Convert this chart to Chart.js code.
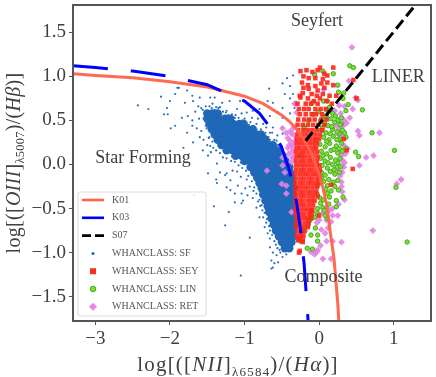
<!DOCTYPE html>
<html lang="en">
<head>
    <meta charset="UTF-8">
    <title>BPT diagram</title>
    <script src="https://cdnjs.cloudflare.com/ajax/libs/Chart.js/4.4.1/chart.umd.min.js"></script>
    <style>
        body { margin: 0; background: #fff; }
        canvas { display: block; }
    </style>
</head>
<body>
    <canvas id="bpt" width="436" height="377"></canvas>

    <script>
        const xTicks = [-3, -2, -1, 0, 1];
        const xTickLabels = ['−3', '−2', '−1', '0', '1'];
        const yTicks = [-1.5, -1, -0.5, 0, 0.5, 1, 1.5];
        const yTickLabels = ['−1.5', '−1.0', '−0.5', '0.0', '0.5', '1.0', '1.5'];

        // demarcation lines
        const k01 = [[-3.3, 1.03], [-3, 1.01], [-2.5, 0.985], [-2, 0.94], [-1.5, 0.88], [-1, 0.775], [-0.75, 0.69], [-0.5, 0.56], [-0.4, 0.49], [-0.3, 0.4], [-0.2, 0.28], [-0.1, 0.12], [0, -0.11], [0.05, -0.26], [0.1, -0.45], [0.15, -0.77], [0.2, -1.07], [0.25, -1.58], [0.27, -1.86]];
        const k03 = [[-3.3, 1.12], [-3, 1.1], [-2.5, 1.06], [-2, 1], [-1.5, 0.905], [-1, 0.72], [-0.8, 0.58], [-0.6, 0.36], [-0.5, 0.19], [-0.4, -0.06], [-0.3, -0.44], [-0.25, -0.74], [-0.2, -1.14], [-0.15, -1.75], [-0.14, -1.9]];
        const s07 = [[-0.18, 0.27], [1.29, 1.81]];

        // dense part of the star forming cloud, [y, [x...]]
        const sfCoreRows = [
            [0.58, [-1.50, -1.43, -1.36]],
            [0.52, [-1.50, -1.42, -1.34, -1.26, -1.19]],
            [0.46, [-1.47, -1.39, -1.31, -1.23, -1.15, -1.07, -1.01]],
            [0.40, [-1.44, -1.36, -1.28, -1.20, -1.12, -1.04, -0.96, -0.89]],
            [0.34, [-1.40, -1.32, -1.24, -1.16, -1.08, -1.00, -0.92, -0.84, -0.78]],
            [0.28, [-1.36, -1.28, -1.20, -1.12, -1.04, -0.96, -0.88, -0.80, -0.72]],
            [0.22, [-1.31, -1.23, -1.15, -1.07, -0.99, -0.91, -0.83, -0.75, -0.67, -0.62]],
            [0.16, [-1.24, -1.16, -1.08, -1.00, -0.92, -0.84, -0.76, -0.68, -0.60, -0.55]],
            [0.10, [-1.12, -1.04, -0.96, -0.88, -0.80, -0.72, -0.64, -0.56, -0.49]],
            [0.04, [-1.00, -0.92, -0.84, -0.76, -0.68, -0.60, -0.52, -0.45]],
            [-0.03, [-0.92, -0.84, -0.76, -0.68, -0.60, -0.52, -0.44, -0.40]],
            [-0.09, [-0.87, -0.79, -0.71, -0.63, -0.55, -0.47, -0.39]],
            [-0.15, [-0.83, -0.75, -0.67, -0.59, -0.51, -0.43, -0.37]],
            [-0.21, [-0.80, -0.72, -0.64, -0.56, -0.48, -0.40, -0.36]],
            [-0.27, [-0.77, -0.69, -0.61, -0.53, -0.45, -0.37, -0.34]],
            [-0.34, [-0.75, -0.67, -0.59, -0.51, -0.43, -0.35]],
            [-0.41, [-0.72, -0.64, -0.56, -0.48, -0.40, -0.34]],
            [-0.475, [-0.69, -0.61, -0.53, -0.45, -0.37, -0.33]],
            [-0.54, [-0.67, -0.59, -0.51, -0.43, -0.35]],
            [-0.61, [-0.64, -0.56, -0.48, -0.40, -0.34]],
            [-0.68, [-0.61, -0.53, -0.45, -0.37, -0.33]],
            [-0.75, [-0.58, -0.50, -0.42, -0.35]],
            [-0.815, [-0.54, -0.47, -0.39, -0.35]],
            [-0.88, [-0.50, -0.43, -0.37]],
            [-0.95, [-0.46, -0.40]]
        ];

        const sfStray = [
            [-2.43, 0.67], [-2.29, 0.63], [-2.12, 0.77], [-1.90, 0.87], [-1.88, 0.87], [-1.93, 0.80], [-1.77, 0.84], [-2.0, 0.72], [-2.04, 0.64], [-2.08, 0.57],
            [-2.03, 0.57], [-1.84, 0.53], [-1.93, 0.44], [-1.99, 0.41], [-1.77, 0.36], [-1.82, 0.19], [-1.69, 0.72], [-1.80, 0.70], [-1.70, 0.78], [-1.60, 0.76],
            [-1.46, 0.76], [-1.40, 0.76], [-1.20, 0.72], [-1.76, 0.55], [-1.70, 0.50], [-1.70, 0.44], [-1.64, 0.41], [-1.60, 0.31], [-1.69, 0.25], [-1.56, 0.16],
            [-1.49, 0.10], [-1.37, 0.01], [-1.33, -0.09], [-1.24, -0.10], [-1.49, -0.10], [-1.16, -0.07], [-1.10, 0.63], [-0.97, 0.59], [-1.24, 0.61], [-1.35, 0.64],
            [-1.06, 0.72], [-1.62, 0.66], [-1.66, 0.60], [-1.58, 0.64], [-1.61, 0.52], [-1.58, 0.38], [-1.55, 0.28], [-1.50, 0.22], [-1.45, 0.14], [-1.30, 0.70],
            [-0.43, 0.98], [-0.35, 1.01], [-0.67, 0.86], [-0.49, 0.92], [-0.39, 0.89], [-0.46, 0.80], [-0.35, 0.80], [-0.69, 0.72], [-0.62, 0.70], [-0.39, 0.75],
            [-0.49, 0.64], [-0.33, 0.64], [-0.80, 0.63], [-0.89, 0.61], [-0.55, 0.59], [-0.39, 0.58], [-0.66, 0.55], [-0.49, 0.53], [-0.75, 0.46], [-0.62, 0.42],
            [-0.50, 0.42], [-0.63, 0.36], [-0.49, 0.35], [-0.57, 0.27], [-0.50, 0.21], [-1.0, 0.52], [-0.92, 0.48], [-0.84, 0.46], [-0.78, 0.40], [-0.72, 0.36],
            [-0.90, 0.53], [-0.68, 0.31], [-0.60, 0.28], [-0.55, 0.22], [-1.12, 0.56], [-1.04, 0.58], [-0.82, 0.52], [-0.71, 0.42], [-0.66, 0.36], [-0.56, 0.33],
            [-1.68, -0.35], [-1.41, -0.475], [-1.21, -0.54], [-1.26, -0.69], [-1.05, -1.26], [-1.13, -0.43], [-1.37, -0.21], [-1.38, -0.17], [-1.24, -0.26], [-1.19, -0.29],
            [-1.13, -0.33], [-1.04, -0.33], [-1.02, -0.41], [-0.99, -0.27], [-1.09, -0.24], [-1.19, -0.18], [-1.26, -0.12], [-0.93, -0.83], [-0.66, -0.94], [-0.64, -1.09],
            [-0.60, -1.12], [-0.62, -1.17], [-0.64, -1.18], [-0.55, -1.11], [-0.49, -1.05], [-0.66, -0.84], [-0.73, -0.71], [-0.80, -0.60], [-0.84, -0.49], [-0.89, -0.38],
            [-1.04, -0.44], [-0.96, -0.35], [-0.76, -0.52], [-0.69, -0.78], [-0.62, -1.0], [-0.57, -1.03], [-1.05, -0.14], [-1.10, -0.08], [-0.97, -0.17], [-0.93, -0.25],
            [-0.88, -0.30], [-0.82, -0.42], [-0.79, -0.47], [-0.75, -0.60], [-0.71, -0.66], [-0.66, -0.75], [-0.60, -0.87], [-0.56, -0.95], [-0.52, -1.0], [-0.44, -1.02],
            // fringe of the top left tip
            [-1.56, 0.62], [-1.52, 0.66], [-1.47, 0.66], [-1.43, 0.69], [-1.38, 0.65], [-1.33, 0.65], [-1.29, 0.60], [-1.25, 0.59], [-1.54, 0.57], [-1.55, 0.52],
            [-1.44, 0.64], [-1.40, 0.62], [-1.35, 0.61], [-1.31, 0.57], [-1.22, 0.56], [-1.17, 0.57], [-1.13, 0.53], [-1.08, 0.53], [-1.03, 0.50], [-0.98, 0.47],
            [-0.94, 0.45], [-0.88, 0.44], [-0.84, 0.40], [-0.78, 0.36], [-0.72, 0.33], [-0.66, 0.28], [-0.62, 0.26], [-0.58, 0.21], [-1.52, 0.49], [-1.52, 0.44],
            [-1.51, 0.41], [-1.46, 0.37], [-1.47, 0.31], [-1.43, 0.26], [-1.42, 0.19], [-1.38, 0.16], [-1.33, 0.13], [-1.29, 0.08], [-1.24, 0.07], [-1.18, 0.04],
            [-1.13, 0.03], [-1.08, -0.01], [-1.03, -0.04], [-0.98, -0.07], [-0.95, -0.13], [-0.90, -0.19], [-0.87, -0.26], [-0.84, -0.33], [-0.80, -0.40], [-0.77, -0.46],
            [-0.73, -0.55], [-0.70, -0.62], [-0.67, -0.70], [-0.63, -0.80], [-0.58, -0.91], [-0.53, -0.97], [-1.48, 0.30], [-1.46, 0.21], [-1.05, 0.02], [-1.17, 0.09]
        ];

        // seyfert, solid block as [y, [x...]] and the sparse top and outliers as points
        const seyRows = [
            [0.63, [-0.27, -0.20, -0.14, -0.05, 0.02, 0.09]],
            [0.57, [-0.26, -0.18, -0.10, -0.04, 0.04]],
            [0.51, [-0.28, -0.20, -0.13, -0.06, 0.03, 0.10]],
            [0.45, [-0.29, -0.22, -0.15, -0.08, -0.01, 0.07]],
            [0.39, [-0.28, -0.21, -0.15, -0.09, -0.03, 0.04]],
            [0.34, [-0.29, -0.23, -0.17, -0.11, -0.05, 0.01]],
            [0.29, [-0.30, -0.24, -0.18, -0.12, -0.06, 0]],
            [0.24, [-0.30, -0.245, -0.19, -0.135, -0.08, -0.03]],
            [0.19, [-0.30, -0.25, -0.19, -0.14, -0.08, -0.04]],
            [0.14, [-0.31, -0.25, -0.20, -0.14, -0.09, -0.03]],
            [0.09, [-0.30, -0.24, -0.19, -0.13, -0.08, -0.02]],
            [0.04, [-0.31, -0.25, -0.20, -0.14, -0.09, -0.03]],
            [-0.01, [-0.31, -0.255, -0.20, -0.145, -0.09, -0.035, 0]],
            [-0.06, [-0.31, -0.25, -0.20, -0.14, -0.09, -0.03, 0.01]],
            [-0.11, [-0.32, -0.26, -0.20, -0.15, -0.09, -0.04, 0]],
            [-0.16, [-0.31, -0.25, -0.20, -0.14, -0.09, -0.03, 0.01]],
            [-0.21, [-0.32, -0.26, -0.21, -0.15, -0.10, -0.04, 0]],
            [-0.26, [-0.31, -0.26, -0.20, -0.15, -0.09, -0.03]],
            [-0.31, [-0.32, -0.26, -0.21, -0.15, -0.10, -0.04]],
            [-0.36, [-0.31, -0.25, -0.20, -0.14, -0.08, -0.02]],
            [-0.41, [-0.32, -0.26, -0.21, -0.15, -0.10, -0.06]],
            [-0.46, [-0.31, -0.25, -0.20, -0.14, -0.08]],
            [-0.51, [-0.32, -0.26, -0.20, -0.15, -0.09]],
            [-0.56, [-0.31, -0.25, -0.20, -0.14, -0.10]],
            [-0.61, [-0.31, -0.26, -0.20, -0.15, -0.11]],
            [-0.66, [-0.30, -0.25, -0.19, -0.14]],
            [-0.71, [-0.31, -0.25, -0.20, -0.15]],
            [-0.76, [-0.29, -0.24, -0.20]],
            [-0.81, [-0.30, -0.25, -0.21]],
            [-0.86, [-0.28, -0.22]]
        ];
        const seyPoints = [
            [-0.25, 1.06], [-0.17, 1.07], [-0.09, 1.05], [-0.02, 1.07], [0.01, 1.10], [0.07, 1.03], [0.19, 1.10], [-0.21, 1.0], [-0.14, 0.98], [-0.05, 0.98],
            [0.05, 0.97], [0.11, 1.01], [-0.23, 0.93], [-0.15, 0.90], [-0.05, 0.89], [0.03, 0.92], [0.11, 0.93], [0.19, 0.90], [-0.21, 0.87], [-0.14, 0.86],
            [-0.02, 0.84], [0.07, 0.87], [-0.26, 0.78], [-0.22, 0.81], [-0.10, 0.80], [-0.03, 0.78], [0.05, 0.80], [0.14, 0.78], [0.23, 0.78], [-0.25, 0.76],
            [-0.15, 0.75], [-0.07, 0.72], [0.01, 0.75], [0.10, 0.72], [-0.18, 0.69], [-0.11, 0.69], [-0.02, 0.69], [0.17, 0.69], [-0.29, 0.69], [0.50, 0.75],
            [0.46, 0.96], [0.37, 0.16], [0.33, 0.29], [0.45, -0.05], [0.16, -0.23], [0, -0.58], [-0.10, -0.52], [-0.22, -0.88], [-0.27, -0.85], [-0.27, -1.0], [-0.26, -0.98]
        ];

        const linPoints = [
            [0.41, 1.12], [0.46, 1.10], [0.19, 1.03], [0.05, 1.06], [-0.06, 1.02], [0.25, 0.90], [0.26, 0.82], [0.33, 0.81], [0.39, 0.68], [0.32, 0.75],
            [0.58, 0.62], [0.11, 0.72], [0.06, 0.72], [-0.09, 0.70], [0.14, 0.65], [0.36, 0.61], [0.30, 0.53], [0.25, 0.50], [0.30, 0.46], [0.71, 0.36],
            [0.34, 0.36], [0.36, 0.31], [0.27, 0.35], [0.49, 0.14], [0.36, 0.18], [0.25, 0.02], [0.53, 0.09], [1.01, 0.16], [1.03, -0.26], [1.18, -0.88],
            [0.07, 0.47], [0.12, 0.44], [0.21, 0.48], [0.28, 0.45], [0.03, 0.39], [0.09, 0.36], [0.18, 0.40], [0.24, 0.37], [0.31, 0.39], [0.06, 0.31],
            [0.13, 0.28], [0.19, 0.32], [0.27, 0.29], [0.01, 0.23], [0.08, 0.20], [0.14, 0.24], [0.23, 0.21], [0.30, 0.24], [0.03, 0.15], [0.10, 0.12],
            [0.16, 0.16], [0.25, 0.13], [0.31, 0.15], [0.02, 0.07], [0.08, 0.04], [0.15, 0.08], [0.22, 0.05], [0.28, 0.07], [0.04, -0.01], [0.11, -0.04],
            [0.18, 0], [0.24, -0.03], [0.03, -0.09], [0.08, -0.12], [0.15, -0.08], [0.21, -0.11], [0.27, -0.09], [0.06, -0.19], [0.13, -0.17], [0.19, -0.20],
            [0.25, -0.18], [0.11, -0.24], [0.21, -0.25], [0.16, -0.30], [0.26, -0.29], [0.32, -0.37], [0.23, -0.41], [0.23, -0.48], [0.11, -0.33], [0.14, -0.37],
            [-0.02, -0.24], [-0.03, -0.33], [0.01, -0.38], [-0.02, -0.50], [0.05, -0.49], [0.11, -0.61], [-0.06, -0.60], [-0.10, -0.61], [-0.15, -0.69], [-0.05, -0.72],
            [-0.19, -0.75], [-0.02, -0.80], [-0.11, -0.80], [-0.25, -0.87], [-0.02, -0.87], [-0.16, -0.95], [-0.09, -0.96], [0.08, -0.58], [0.07, -0.52], [-0.03, -0.55],
            [-0.13, -0.64], [-0.14, 0.50], [-0.08, 0.57], [-0.01, 0.60], [-0.20, 0.42], [0.10, 0.62], [0.18, 0.58], [-0.26, 0.10], [-0.05, 0.28], [0.06, 0.54],
            [0.05, 0.42], [0.15, 0.35], [0.10, 0.26], [0.20, 0.17], [0.05, 0.10], [0.12, 0.02], [0.20, -0.06], [0.03, -0.15], [0.09, -0.28], [0.06, -0.40],
            [0.10, 0.55], [0.16, 0.52], [0.22, 0.55], [0.02, 0.50], [0.27, 0.18], [0.29, -0.02], [0.13, -0.45], [0.02, -0.44], [0.17, 0.43], [0.24, 0.28]
        ];

        const retPoints = [
            [0.44, 1.33], [0.40, 0.95], [0.49, 0.76], [0.52, 0.73], [0.45, 0.63], [0.41, 0.53], [0.37, 0.47], [0.52, 0.38], [0.54, 0.33], [0.81, 0.36],
            [0.63, 0.08], [0.73, 0.10], [0.54, -0.01], [0.31, -0.09], [1.10, -0.17], [0.34, 0.02], [-0.70, -0.07], [-0.49, -0.01], [-0.46, -0.09], [-0.49, 0.08],
            [-0.49, 0.41], [-0.37, 0.35], [-0.39, 0.27], [-0.42, 0.19], [-0.33, 0.33], [-0.33, 0.69], [-0.30, 0.59], [-0.37, 0.14], [0.38, 0.18], [0.31, 0.16],
            [1.04, -0.22], [0.72, -0.75], [0.30, -0.88], [0.10, -0.87], [0.18, -0.87], [0.05, -1.07], [0.16, -1.07], [-0.02, -0.97], [-0.06, -1.02], [-0.11, -0.99],
            [-0.03, -0.99], [-0.50, -0.22], [-0.44, -0.24], [-0.44, -0.33], [-0.37, -0.54], [0.31, -0.31], [0.34, -0.40], [0.18, -0.58], [0.10, -0.63], [0, -0.63],
            [-0.03, -0.66], [0.18, -0.50], [0.05, -0.55], [0.10, -0.49], [0.14, -0.52], [-0.02, -0.55], [0.28, 0.27], [0.32, 0.38], [0.34, 0.50], [0.30, 0.10],
            [0.27, -0.07], [0.23, 0.44], [0.21, 0.61], [0.27, 0.67], [0.34, 0.66], [0.06, 0.85], [-0.31, 0.69], [-0.40, 0.22], [-0.36, 0.08], [-0.34, 0.42],
            [-0.44, 0.36], [0.12, -0.72], [0.03, -0.74], [0.16, -0.65], [0.26, -0.45], [0.30, -0.20], [0.25, -0.58], [0.02, -0.92], [0.08, -0.78],
            [-0.42, 0.30], [-0.38, 0.38], [-0.36, 0.22], [-0.33, 0.26], [-0.41, 0.12], [-0.35, 0.18], [-0.34, 0.08], [-0.37, 0.03], [0.26, 0.50], [0.32, 0.44],
            [0.30, 0.32], [0.33, 0.22], [0.35, 0.12], [0.31, 0.05], [0.33, -0.03], [0.28, -0.13], [0.30, -0.25], [0.25, 0.35], [0.27, 0.40], [0.29, 0.58]
        ];

        const pairsFromRows = rows => rows.flatMap(([y, xs]) => xs.map(x => [x, y]));

        function scatterSet(label, points, style) {
            return Object.assign({
                label: label,
                data: points.map(p => ({ x: p[0], y: p[1] })),
                showLine: false
            }, style);
        }
        function lineSet(label, points, color, width, dash, order) {
            return {
                label: label,
                data: points.map(p => ({ x: p[0], y: p[1] })),
                showLine: true,
                borderColor: color,
                borderWidth: width,
                borderDash: dash,
                pointRadius: 0,
                tension: 0,
                order: order
            };
        }

        const SERIF = '"Liberation Serif", serif';
        const INK = '#404040';
        const legendRows = [
            { name: 'K01', line: '#ff6347' },
            { name: 'K03', line: '#0000ff' },
            { name: 'S07', line: '#000000', dash: [9, 4] },
            { name: 'WHANCLASS: SF', mark: 'sf' },
            { name: 'WHANCLASS: SEY', mark: 'sey' },
            { name: 'WHANCLASS: LIN', mark: 'lin' },
            { name: 'WHANCLASS: RET', mark: 'ret' }
        ];

        // text made of runs: [text, style] with style r, i or s (subscript)
        function drawRuns(ctx, runs, size, spacing) {
            const fontFor = s => s === 'i' ? `italic ${size}px ${SERIF}` : s === 's' ? `${size * 0.62}px ${SERIF}` : `${size}px ${SERIF}`;
            ctx.letterSpacing = spacing + 'px';
            let total = 0;
            runs.forEach(r => { ctx.font = fontFor(r[1]); total += ctx.measureText(r[0]).width; });
            let x = -total / 2;
            ctx.textAlign = 'left';
            ctx.textBaseline = 'alphabetic';
            runs.forEach(r => {
                ctx.font = fontFor(r[1]);
                ctx.fillText(r[0], x, r[1] === 's' ? size * 0.22 : 0);
                x += ctx.measureText(r[0]).width;
            });
            ctx.letterSpacing = '0px';
        }

        const decorations = {
            id: 'decorations',
            afterDraw(chart) {
                const ctx = chart.ctx;
                const area = chart.chartArea;
                ctx.save();

                // frame
                ctx.strokeStyle = '#555';
                ctx.lineWidth = 2;
                ctx.strokeRect(area.left, area.top, area.right - area.left, area.bottom - area.top);

                // region names
                ctx.fillStyle = INK;
                ctx.font = `18px ${SERIF}`;
                ctx.textAlign = 'center';
                ctx.textBaseline = 'middle';
                ctx.fillText('Seyfert', chart.scales.x.getPixelForValue(-0.03), chart.scales.y.getPixelForValue(1.62));
                ctx.fillText('LINER', chart.scales.x.getPixelForValue(1.06), chart.scales.y.getPixelForValue(0.99));
                ctx.fillText('Star Forming', chart.scales.x.getPixelForValue(-2.36), chart.scales.y.getPixelForValue(0.07));
                ctx.fillText('Composite', chart.scales.x.getPixelForValue(0.06), chart.scales.y.getPixelForValue(-1.28));

                // legend box
                const lx = 78, ly = 192, lw = 128, lh = 124;
                ctx.fillStyle = 'rgba(255,255,255,0.85)';
                ctx.strokeStyle = '#dcdcdc';
                ctx.lineWidth = 1;
                ctx.beginPath();
                ctx.roundRect(lx, ly, lw, lh, 2);
                ctx.fill();
                ctx.stroke();

                legendRows.forEach((row, i) => {
                    const y = 200 + i * 17.8;
                    if (row.line) {
                        ctx.strokeStyle = row.line;
                        ctx.lineWidth = 2.6;
                        ctx.setLineDash(row.dash || []);
                        ctx.beginPath();
                        ctx.moveTo(82, y);
                        ctx.lineTo(104, y);
                        ctx.stroke();
                        ctx.setLineDash([]);
                    } else {
                        const cx = 93;
                        ctx.beginPath();
                        if (row.mark === 'sf') {
                            ctx.fillStyle = '#1f64b4';
                            ctx.arc(cx, y, 1.5, 0, Math.PI * 2);
                            ctx.fill();
                        } else if (row.mark === 'sey') {
                            ctx.fillStyle = '#ff2d20';
                            ctx.fillRect(cx - 3, y - 3, 6, 6);
                        } else if (row.mark === 'lin') {
                            ctx.fillStyle = '#7fe02a';
                            ctx.strokeStyle = '#45a82c';
                            ctx.lineWidth = 1;
                            ctx.arc(cx, y, 2.8, 0, Math.PI * 2);
                            ctx.fill();
                            ctx.stroke();
                        } else {
                            ctx.fillStyle = '#e488e4';
                            ctx.moveTo(cx, y - 4);
                            ctx.lineTo(cx + 4, y);
                            ctx.lineTo(cx, y + 4);
                            ctx.lineTo(cx - 4, y);
                            ctx.closePath();
                            ctx.fill();
                        }
                    }
                    ctx.fillStyle = '#555';
                    ctx.font = `10px ${SERIF}`;
                    ctx.textAlign = 'left';
                    ctx.textBaseline = 'middle';
                    ctx.fillText(row.name, 112, y);
                });

                // axis titles
                ctx.fillStyle = INK;
                ctx.save();
                ctx.translate(238, 371);
                drawRuns(ctx, [['log[([', 'r'], ['NII', 'i'], [']', 'r'], ['λ6584', 's'], [')/(', 'r'], ['Hα', 'i'], [')]', 'r']], 21, 1.2);
                ctx.restore();
                ctx.save();
                ctx.translate(20, 163);
                ctx.rotate(-Math.PI / 2);
                drawRuns(ctx, [['log[([', 'r'], ['OIII', 'i'], [']', 'r'], ['λ5007', 's'], [')/(', 'r'], ['Hβ', 'i'], [')]', 'r']], 20, 0.3);
                ctx.restore();

                ctx.restore();
            }
        };

        const axisBase = {
            type: 'linear',
            border: { color: '#555', width: 2 },
            grid: { drawOnChartArea: false, drawTicks: true, tickLength: 4, color: '#555', tickWidth: 1 }
        };

        new Chart(document.getElementById('bpt').getContext('2d'), {
            type: 'scatter',
            data: {
                datasets: [
                    lineSet('K01', k01, 'rgba(255, 99, 71, 0.95)', 3, [], 1),
                    lineSet('K03', k03, '#0000ff', 3, [35, 23], 0),
                    lineSet('S07', s07, '#000000', 3, [11, 5], 0),
                    scatterSet('WHANCLASS: RET', retPoints, { order: 5, pointStyle: 'rectRot', pointRadius: 3.4, backgroundColor: 'rgba(226, 130, 226, 0.9)', borderWidth: 0 }),
                    scatterSet('WHANCLASS: LIN', linPoints, { order: 4, pointStyle: 'circle', pointRadius: 2.2, backgroundColor: '#7fe02a', borderColor: '#45a82c', borderWidth: 1 }),
                    scatterSet('WHANCLASS: SEY', pairsFromRows(seyRows).concat(seyPoints), { order: 2, pointStyle: 'rect', pointRadius: 3.2, backgroundColor: 'rgba(255, 35, 25, 0.9)', borderWidth: 0 }),
                    scatterSet('WHANCLASS: SF', sfStray, { order: 6, pointStyle: 'circle', pointRadius: 1.1, backgroundColor: '#2a6fbe', borderWidth: 0 }),
                    scatterSet('WHANCLASS: SF core', pairsFromRows(sfCoreRows), { order: 7, pointStyle: 'circle', pointRadius: 4.2, backgroundColor: '#1f68b8', borderWidth: 0 })
                ]
            },
            options: {
                responsive: false,
                animation: false,
                events: [],
                layout: { padding: { top: 4, right: 4 } },
                plugins: { legend: { display: false }, tooltip: { enabled: false } },
                scales: {
                    x: Object.assign({}, axisBase, {
                        min: -3.3,
                        max: 1.5,
                        afterBuildTicks: axis => { axis.ticks = xTicks.map(v => ({ value: v })); },
                        afterFit: axis => { axis.height = 56; axis.paddingLeft = 0; axis.paddingRight = 0; },
                        ticks: { color: INK, font: { family: SERIF, size: 19 }, padding: 3, maxRotation: 0, autoSkip: false, callback: (v, i) => xTickLabels[i] }
                    }),
                    y: Object.assign({}, axisBase, {
                        min: -1.776,
                        max: 1.81,
                        afterBuildTicks: axis => { axis.ticks = yTicks.map(v => ({ value: v })); },
                        afterFit: axis => { axis.width = 73; axis.paddingTop = 0; axis.paddingBottom = 0; },
                        ticks: { color: INK, font: { family: SERIF, size: 19 }, padding: 3, autoSkip: false, callback: (v, i) => yTickLabels[i] }
                    })
                }
            },
            plugins: [decorations]
        });
    </script>
</body>
</html>
